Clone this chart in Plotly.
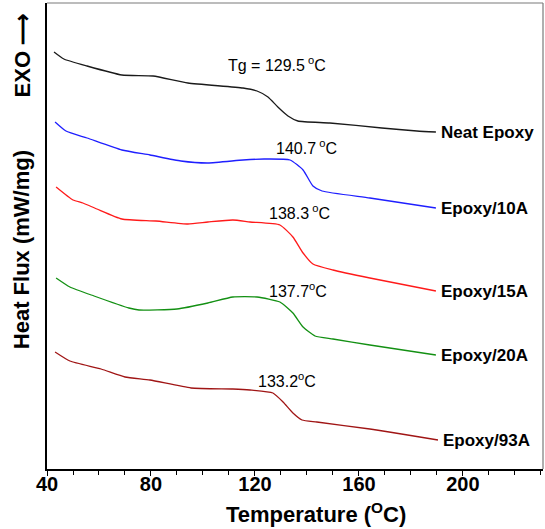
import plotly.graph_objects as go

# Temperature (°C) and heat flux (arbitrary offset units, mW/mg)
neat_T = [42.7, 46.5, 55.4, 68.8, 80.8, 94.2, 115.4, 120.8, 125.0, 128.8, 132.7, 136.5, 148.8, 168.8, 182.3, 189.6]
neat_H = [4.17, 4.10, 4.03, 3.94, 3.93, 3.86, 3.81, 3.78, 3.72, 3.62, 3.53, 3.48, 3.46, 3.41, 3.38, 3.37]

e10_T = [43.1, 47.3, 55.4, 68.8, 79.6, 91.5, 101.9, 115.4, 123.5, 133.5, 138.5, 142.3, 145.8, 164.2, 189.6]
e10_H = [3.47, 3.38, 3.31, 3.19, 3.14, 3.08, 3.06, 3.09, 3.10, 3.09, 2.99, 2.83, 2.78, 2.71, 2.61]

e15_T = [43.5, 50.0, 53.8, 59.2, 68.8, 81.9, 94.2, 101.9, 111.5, 118.1, 129.6, 134.6, 138.5, 142.3, 150.0, 164.2, 189.6]
e15_H = [2.82, 2.69, 2.66, 2.60, 2.50, 2.48, 2.45, 2.47, 2.49, 2.47, 2.44, 2.32, 2.16, 2.05, 1.99, 1.91, 1.78]

e20_T = [43.5, 48.8, 58.1, 71.5, 75.4, 90.0, 101.9, 111.5, 120.8, 129.6, 134.6, 138.5, 143.1, 150.0, 164.2, 189.6]
e20_H = [1.91, 1.82, 1.73, 1.61, 1.59, 1.60, 1.66, 1.72, 1.72, 1.67, 1.56, 1.42, 1.33, 1.30, 1.24, 1.14]

e93_T = [43.1, 48.8, 60.8, 70.0, 79.6, 95.4, 111.5, 118.1, 126.9, 130.8, 134.6, 138.1, 143.8, 164.2, 190.4]
e93_H = [1.17, 1.08, 1.00, 0.92, 0.89, 0.81, 0.80, 0.79, 0.76, 0.67, 0.56, 0.49, 0.47, 0.40, 0.29]

names = ["Neat Epoxy", "Epoxy/10A", "Epoxy/15A", "Epoxy/20A", "Epoxy/93A"]
tg_values = [129.5, 140.7, 138.3, 137.7, 133.2]
tg_texts = ["Tg = 129.5<sup> o</sup>C", "140.7<sup> o</sup>C", "138.3<sup> o</sup>C", "137.7<sup>o</sup>C", "133.2<sup>o</sup>C"]
tg_label_y = [4.05, 3.22, 2.57, 1.79, 0.89]
colors = ["#1a1a1a", "#1f1fff", "#ff1a1a", "#139013", "#a01515"]

series = [(neat_T, neat_H), (e10_T, e10_H), (e15_T, e15_H), (e20_T, e20_H), (e93_T, e93_H)]

FONT = "Liberation Sans, Arial, sans-serif"

fig = go.Figure()
for (T, H), name, c in zip(series, names, colors):
    fig.add_trace(go.Scatter(x=T, y=H, mode="lines", name=name,
                             line=dict(color=c, width=1.3, shape="spline", smoothing=0.5),
                             showlegend=False, hoverinfo="skip"))
    fig.add_annotation(x=T[-1] + 1.3, y=H[-1], text=name, showarrow=False,
                       xanchor="left", yanchor="middle",
                       font=dict(family=FONT, size=17, color="black", weight="bold"))

for tg, txt, ly in zip(tg_values, tg_texts, tg_label_y):
    fig.add_annotation(x=tg - 1.0, y=ly, text=txt, showarrow=False,
                       xanchor="center", yanchor="middle",
                       font=dict(family=FONT, size=16, color="black"))

# axis titles
fig.add_annotation(xref="paper", yref="paper", x=0.542, y=-0.095,
                   text="Temperature (<sup>O</sup>C)", showarrow=False,
                   xanchor="center", yanchor="middle",
                   font=dict(family=FONT, size=22, color="black", weight="bold"))
fig.add_annotation(xref="paper", yref="paper", x=-0.05, y=0.47,
                   text="Heat Flux (mW/mg)", showarrow=False, textangle=-90,
                   xanchor="center", yanchor="middle",
                   font=dict(family=FONT, size=22, color="black", weight="bold"))
fig.add_annotation(xref="paper", yref="paper", x=-0.05, y=0.888,
                   text="EXO \u27f6", showarrow=False, textangle=-90,
                   xanchor="center", yanchor="middle",
                   font=dict(family=FONT, size=22, color="black", weight="bold"))

# top and right frame (grey)
fig.add_shape(type="line", xref="paper", yref="paper", x0=0, x1=1, y0=1, y1=1,
              line=dict(color="#7a7a7a", width=1.2))
fig.add_shape(type="line", xref="paper", yref="paper", x0=1, x1=1, y0=0, y1=1,
              line=dict(color="#7a7a7a", width=1.2))

fig.update_xaxes(range=[40, 230.8], tickvals=[40, 80, 120, 160, 200],
                 ticks="outside", ticklen=5, tickwidth=1.2, tickcolor="black",
                 ticklabelstandoff=-9,
                 minor=dict(dtick=10, tick0=40, ticks="outside", ticklen=4, tickwidth=1, tickcolor="black"),
                 showline=True, linecolor="black", linewidth=1.5, showgrid=False, zeroline=False,
                 tickfont=dict(family=FONT, size=20, color="black", weight="bold"))
fig.update_yaxes(range=[0, 4.66], showticklabels=False, ticks="", showline=True,
                 linecolor="black", linewidth=1.5, showgrid=False, zeroline=False)

fig.update_layout(width=545, height=529, margin=dict(l=47, r=2, t=3, b=60),
                  paper_bgcolor="white", plot_bgcolor="white")

fig.write_html("out.html")
